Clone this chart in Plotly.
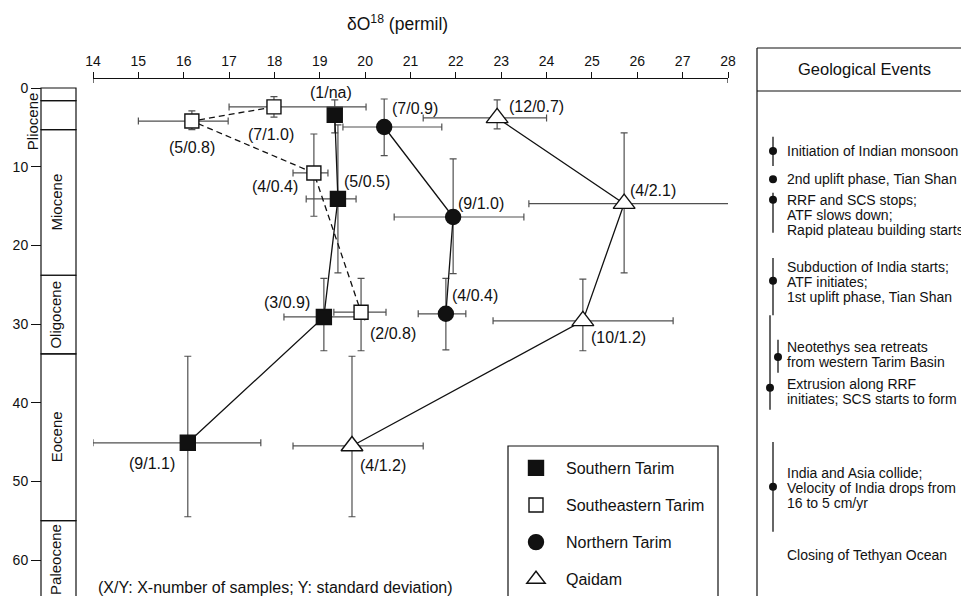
import plotly.graph_objects as go

OFF = 8                      # page body margin of the browser
W, H = 969 - OFF, 596 - OFF
FONT = "Liberation Sans, Arial, Helvetica, sans-serif"

# ---------------- data ----------------
# Southern Tarim (filled squares)
south_labels = ["(1/na)", "(5/0.5)", "(3/0.9)", "(9/1.1)"]
south_d18o = [19.33, 19.40, 19.09, 16.09]
south_age = [3.4, 14.1, 29.1, 45.1]
south_d18o_low = [19.33, 18.70, 18.21, 14.00]
south_d18o_high = [19.33, 19.80, 19.99, 17.70]
south_age_low = [1.5, 4.7, 24.2, 34.1]
south_age_high = [5.7, 23.5, 33.4, 54.5]

# Southeastern Tarim (open squares)
se_labels = ["(7/1.0)", "(5/0.8)", "(4/0.4)", "(2/0.8)"]
se_d18o = [17.99, 16.18, 18.87, 19.91]
se_age = [2.4, 4.2, 10.8, 28.5]
se_d18o_low = [17.00, 15.00, 18.41, 19.31]
se_d18o_high = [20.02, 16.98, 19.18, 20.46]
se_age_low = [1.1, 2.9, 5.85, 24.2]
se_age_high = [3.7, 5.3, 16.3, 33.4]

# Northern Tarim (filled circles)
north_labels = ["(7/0.9)", "(9/1.0)", "(4/0.4)"]
north_d18o = [20.42, 21.94, 21.78]
north_age = [4.96, 16.4, 28.7]
north_d18o_low = [19.51, 20.64, 21.17]
north_d18o_high = [21.69, 23.50, 22.22]
north_age_low = [1.4, 9.0, 24.2]
north_age_high = [8.6, 23.6, 33.3]

# Qaidam (open triangles)
qaidam_labels = ["(12/0.7)", "(4/2.1)", "(10/1.2)", "(4/1.2)"]
qaidam_d18o = [22.91, 25.71, 24.80, 19.71]
qaidam_age = [3.8, 14.7, 29.6, 45.5]
qaidam_d18o_low = [21.28, 23.61, 22.82, 18.41]
qaidam_d18o_high = [24.00, 28.20, 26.79, 21.28]
qaidam_age_low = [1.5, 5.7, 24.3, 34.1]
qaidam_age_high = [5.2, 23.5, 33.4, 54.5]

# Geologic time scale (Ma)
epoch_names = ["", "Pliocene", "Miocene", "Oligocene", "Eocene", "Paleocene"]
epoch_bounds = [0, 1.6, 5.3, 23.8, 33.8, 55.0, 66.0]

x_ticks = list(range(14, 29))
y_ticks = [0, 10, 20, 30, 40, 50, 60]

# Geological events: dot age, bar range, text block centre age, text lines
event_lines = [
    ["Initiation of Indian monsoon"],
    ["2nd uplift phase, Tian Shan"],
    ["RRF and SCS stops;", "ATF slows down;", "Rapid plateau building starts"],
    ["Subduction of India starts;", "ATF initiates;", "1st uplift phase, Tian Shan"],
    ["Neotethys sea retreats", "from western Tarim Basin"],
    ["Extrusion along RRF", "initiates; SCS starts to form"],
    ["India and Asia collide;", "Velocity of India drops from", "16 to 5 cm/yr"],
    ["Closing of Tethyan Ocean"],
]
event_dot_age = [8.0, 11.6, 14.2, 24.5, 34.2, 38.1, 50.7, None]
event_bar_low = [6.2, None, 13.3, 21.6, 32.0, 28.9, 45.0, None]
event_bar_high = [9.9, None, 18.4, 28.9, 36.2, 40.9, 56.4, None]
event_text_age = [8.0, 11.6, 16.1, 24.7, 33.9, 38.6, 50.8, 59.4]

# ---------------- layout helpers (positions in reference-page pixels) ----------------
def px_x(p):
    return (p - OFF) / W

PLOT_TOP, PLOT_BOT = 79, 596
def px_y(p):
    return (PLOT_BOT - p) / (PLOT_BOT - PLOT_TOP)

Y0_PX, PX_PER_MA = 88.0, 7.867
y_range = [(PLOT_BOT - Y0_PX) / PX_PER_MA, (PLOT_TOP - Y0_PX) / PX_PER_MA]

series = [
    dict(name="Southern Tarim", labels=south_labels, x=south_d18o, y=south_age,
         xl=south_d18o_low, xh=south_d18o_high, yl=south_age_low, yh=south_age_high,
         symbol="square", size=15, fill="#111111", dash="solid",
         offs=[(-4, -22), (29, -17), (-37, -14), (-36, 21)]),
    dict(name="Southeastern Tarim", labels=se_labels, x=se_d18o, y=se_age,
         xl=se_d18o_low, xh=se_d18o_high, yl=se_age_low, yh=se_age_high,
         symbol="square", size=14, fill="white", dash="6px,4px",
         offs=[(-3, 28), (0, 26), (-39, 14), (32, 21)]),
    dict(name="Northern Tarim", labels=north_labels, x=north_d18o, y=north_age,
         xl=north_d18o_low, xh=north_d18o_high, yl=north_age_low, yh=north_age_high,
         symbol="circle", size=15, fill="#111111", dash="solid",
         offs=[(31, -19), (28, -14), (29, -18)]),
    dict(name="Qaidam", labels=qaidam_labels, x=qaidam_d18o, y=qaidam_age,
         xl=qaidam_d18o_low, xh=qaidam_d18o_high, yl=qaidam_age_low, yh=qaidam_age_high,
         symbol="triangle-up", size=19, fill="white", dash="solid",
         offs=[(39, -11), (29, -13), (36, 17), (31, 20)]),
]

ERR_COLOR = "#505050"
fig = go.Figure()
annotations = []

for s in series:
    ex_p = [h - v for h, v in zip(s["xh"], s["x"])]
    ex_m = [v - l for l, v in zip(s["xl"], s["x"])]
    ey_p = [h - v for h, v in zip(s["yh"], s["y"])]
    ey_m = [v - l for l, v in zip(s["yl"], s["y"])]
    fig.add_trace(go.Scatter(
        x=s["x"], y=s["y"], mode="lines+markers", showlegend=False,
        cliponaxis=False, hoverinfo="skip",
        line=dict(color="#111111", width=1.3, dash=s["dash"]),
        marker=dict(symbol=s["symbol"], size=s["size"], color=s["fill"],
                    line=dict(color="#111111", width=1.4)),
        error_x=dict(type="data", symmetric=False, array=ex_p, arrayminus=ex_m,
                     color=ERR_COLOR, thickness=1.2, width=3.5),
        error_y=dict(type="data", symmetric=False, array=ey_p, arrayminus=ey_m,
                     color=ERR_COLOR, thickness=1.2, width=3.5),
    ))
    for lab, xv, yv, (dx, dy) in zip(s["labels"], s["x"], s["y"], s["offs"]):
        annotations.append(dict(
            x=xv, y=yv, xref="x", yref="y", text=lab, showarrow=False,
            xshift=dx, yshift=-dy, xanchor="center", yanchor="middle",
            font=dict(size=16, color="#111111", family=FONT)))

# legend-only traces
for s in series:
    fig.add_trace(go.Scatter(
        x=[None], y=[None], mode="markers", name=s["name"], legendgroup=s["name"],
        marker=dict(symbol=s["symbol"], size=min(s["size"], 16), color=s["fill"],
                    line=dict(color="#111111", width=1.4)),
    ))

# geological events (on a second x axis measured in reference pixels of the panel)
dot_x_px = [773, 773, 773, 773, 778, 770, 773, 773]
ev_x, ev_y, ev_ep, ev_em = [], [], [], []
for i in range(len(event_lines)):
    if event_dot_age[i] is None:
        continue
    ev_x.append(dot_x_px[i])
    ev_y.append(event_dot_age[i])
    if event_bar_low[i] is None:
        ev_ep.append(0)
        ev_em.append(0)
    else:
        ev_ep.append(event_bar_high[i] - event_dot_age[i])
        ev_em.append(event_dot_age[i] - event_bar_low[i])
fig.add_trace(go.Scatter(
    x=ev_x, y=ev_y, xaxis="x2", yaxis="y", mode="markers", showlegend=False,
    hoverinfo="skip", cliponaxis=False,
    marker=dict(symbol="circle", size=8, color="#111111"),
    error_y=dict(type="data", symmetric=False, array=ev_ep, arrayminus=ev_em,
                 color="#333333", thickness=1.5, width=0),
))

LINE_GAP = 15
for lines, age in zip(event_lines, event_text_age):
    n = len(lines)
    for j, t in enumerate(lines):
        annotations.append(dict(
            x=785, y=age, xref="x2", yref="y", text=t, showarrow=False,
            xanchor="left", yanchor="middle",
            yshift=-(j - (n - 1) / 2) * LINE_GAP,
            font=dict(size=14, color="#111111", family=FONT)))

shapes = []
# epoch column
for a, b in zip(epoch_bounds[:-1], epoch_bounds[1:]):
    shapes.append(dict(type="rect", xref="paper", yref="y",
                       x0=px_x(41), x1=px_x(76), y0=a, y1=b,
                       line=dict(color="#111111", width=1.2), fillcolor="rgba(0,0,0,0)"))
epoch_label_x = [None, 32, 56, 56, 56, 56]
epoch_label_shift = [0, -6, 0, 0, 0, 4]
for name, a, b, lx, sh in zip(epoch_names, epoch_bounds[:-1], epoch_bounds[1:],
                              epoch_label_x, epoch_label_shift):
    if not name:
        continue
    annotations.append(dict(
        x=px_x(lx), y=(a + b) / 2, xref="paper", yref="y", text=name,
        showarrow=False, textangle=-90, yshift=sh,
        xanchor="center", yanchor="middle",
        font=dict(size=15, color="#111111", family=FONT)))

# end caps of the top axis
for xv in (14, 28):
    shapes.append(dict(type="line", xref="x", yref="paper", x0=xv, x1=xv,
                       y0=px_y(79), y1=px_y(83), line=dict(color="#111111", width=1.2)))

# geological events panel frame
shapes.append(dict(type="line", xref="paper", yref="paper", x0=px_x(757), x1=1.0,
                   y0=px_y(48), y1=px_y(48), line=dict(color="#111111", width=1.2)))
shapes.append(dict(type="line", xref="paper", yref="paper", x0=px_x(757), x1=1.0,
                   y0=px_y(91), y1=px_y(91), line=dict(color="#111111", width=1.2)))
shapes.append(dict(type="line", xref="paper", yref="paper", x0=px_x(757), x1=px_x(757),
                   y0=px_y(48), y1=px_y(600), line=dict(color="#111111", width=1.2)))
# legend frame
shapes.append(dict(type="rect", xref="paper", yref="paper", x0=px_x(508), x1=px_x(718),
                   y0=px_y(446), y1=px_y(620), line=dict(color="#111111", width=1.2),
                   fillcolor="rgba(0,0,0,0)"))

annotations.append(dict(x=px_x(864), y=px_y(69), xref="paper", yref="paper",
                        text="Geological Events", showarrow=False,
                        xanchor="center", yanchor="middle",
                        font=dict(size=16.5, color="#111111", family=FONT)))
annotations.append(dict(x=px_x(397), y=px_y(23), xref="paper", yref="paper",
                        text="δO<sup>18</sup> (permil)", showarrow=False,
                        xanchor="center", yanchor="middle",
                        font=dict(size=17.5, color="#111111", family=FONT)))
annotations.append(dict(x=px_x(96), y=px_y(587), xref="paper", yref="paper",
                        text="(X/Y: X-number of samples; Y: standard deviation)",
                        showarrow=False, xanchor="left", yanchor="middle",
                        font=dict(size=16, color="#111111", family=FONT)))

fig.update_layout(
    template="none",
    width=W, height=H,
    margin=dict(l=0, r=0, t=PLOT_TOP - OFF, b=0, autoexpand=False),
    paper_bgcolor="white", plot_bgcolor="white",
    font=dict(family=FONT, color="#111111"),
    showlegend=True,
    legend=dict(x=px_x(506), y=px_y(451), xanchor="left", yanchor="top",
                bgcolor="rgba(0,0,0,0)", borderwidth=0, itemwidth=50,
                traceorder="grouped", tracegroupgap=13.3,
                font=dict(size=16, family=FONT, color="#111111")),
    xaxis=dict(domain=[px_x(93), px_x(728)], range=[14, 28], side="top", anchor="y",
               tickvals=x_ticks, showline=True, linecolor="#111111", linewidth=1.2,
               ticks="outside", ticklen=6, tickwidth=1.2, tickcolor="#111111",
               tickfont=dict(size=14), showgrid=False, zeroline=False, automargin=False),
    xaxis2=dict(domain=[px_x(757), 1.0], range=[757, 969], anchor="y",
                visible=False, automargin=False),
    yaxis=dict(domain=[0, 1], range=y_range, anchor="free", position=px_x(41),
               tickvals=y_ticks, ticks="outside", ticklen=10, tickwidth=1.2,
               tickcolor="#111111", tickfont=dict(size=14), showline=False,
               showgrid=False, zeroline=False, automargin=False),
    shapes=shapes, annotations=annotations,
)

fig.write_html("out.html")
